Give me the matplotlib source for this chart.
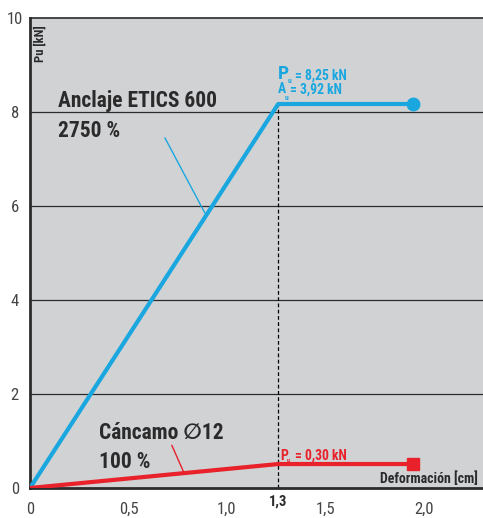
import matplotlib
import matplotlib.pyplot as plt

plt.rcParams["font.family"] = ["Roboto Condensed", "DejaVu Sans"]

# datos
anclaje_x = [0, 1.26, 1.944]
anclaje_y = [0, 8.17, 8.17]
cancamo_x = [0, 1.26, 1.944]
cancamo_y = [0, 0.51, 0.51]
x_ticks = [0, 0.5, 1.0, 1.5, 2.0]
x_labels = ["0", "0,5", "1,0", "1,5", "2,0"]
y_ticks = [0, 2, 4, 6, 8, 10]
x_peak = 1.26

BLUE = "#1aa7e0"
RED = "#e8212b"
GREY = "#d1d2d4"
DARK = "#2b2b2b"

fig = plt.figure(figsize=(4.83, 5.18), dpi=100)
ax = fig.add_axes([30 / 483, 30 / 518, 1 - 30 / 483, 470 / 518])
ax.set_facecolor(GREY)
ax.set_xlim(0, 2.3)
ax.set_ylim(0, 10)

for y in y_ticks[1:-1]:
    ax.axhline(y, color=DARK, lw=0.9, zorder=1)

ax.plot([x_peak, x_peak], [0, anclaje_y[1]], color="black", lw=0.9, ls=(0, (3, 2)), zorder=2)

ax.plot(anclaje_x, anclaje_y, color=BLUE, lw=3, zorder=3)
ax.plot(anclaje_x[-1], anclaje_y[-1], "o", color=BLUE, ms=9, zorder=4)
ax.plot(cancamo_x, cancamo_y, color=RED, lw=3, zorder=3)
ax.plot(cancamo_x[-1], cancamo_y[-1], "s", color=RED, ms=8, zorder=4)

for s in ["left", "bottom", "top"]:
    ax.spines[s].set_color(DARK)
ax.spines["left"].set_linewidth(2)
ax.spines["bottom"].set_linewidth(2)
ax.spines["top"].set_linewidth(1.2)
ax.spines["right"].set_visible(False)

ax.set_xticks(x_ticks)
ax.set_xticklabels(x_labels)
ax.set_yticks(y_ticks)
ax.tick_params(length=0, labelsize=12, colors="#444444")
ax.tick_params(axis="x", pad=10)
ax.tick_params(axis="y", pad=11)
for lab in ax.get_yticklabels():
    lab.set_ha("center")

ax.text(x_peak, -0.13, "1,3", ha="center", va="top", fontsize=10.5, fontweight="bold",
        color=DARK)

ax.text(0.05, 9.85, "Pu [kN]", rotation=90, ha="center", va="top", fontsize=9,
        fontweight="bold", color=DARK)
ax.text(2.274, 0.1, "Deformación [cm]", ha="right", va="baseline", fontsize=10,
        fontweight="bold", color=DARK)

# etiquetas de las curvas
ax.text(0.142, 8.1, "Anclaje ETICS 600", fontsize=15.5, fontweight="bold", color=DARK,
        va="baseline")
ax.text(0.142, 7.47, "2750 %", fontsize=15.5, fontweight="bold", color=DARK, va="baseline")
ax.annotate("", xy=(0.888, 5.85), xytext=(0.685, 7.45),
            arrowprops=dict(arrowstyle="-", color=BLUE, lw=1, shrinkA=0, shrinkB=0))

ax.text(0.35, 1.04, "Cáncamo ∅12", fontsize=15.5, fontweight="bold", color=DARK,
        va="baseline")
ax.text(0.35, 0.43, "100 %", fontsize=15.5, fontweight="bold", color=DARK, va="baseline")
ax.annotate("", xy=(0.78, 0.34), xytext=(0.72, 0.91),
            arrowprops=dict(arrowstyle="-", color=RED, lw=1, shrinkA=0, shrinkB=0))

# valores Pu / Au
ax.text(1.259, 8.70, "P", fontsize=14, fontweight="bold", color=BLUE, va="baseline")
ax.text(1.31, 8.62, "u", fontsize=5.5, fontweight="bold", color=BLUE, va="baseline")
ax.text(1.345, 8.70, "= 8,25 kN", fontsize=9.8, fontweight="bold", color=BLUE, va="baseline")
ax.text(1.259, 8.40, "A", fontsize=9.8, fontweight="bold", color=BLUE, va="baseline")
ax.text(1.292, 8.26, "u", fontsize=5.5, fontweight="bold", color=BLUE, va="baseline")
ax.text(1.32, 8.40, "= 3,92 kN", fontsize=9.8, fontweight="bold", color=BLUE, va="baseline")

ax.text(1.27, 0.60, "P", fontsize=10, fontweight="bold", color=RED, va="baseline")
ax.text(1.305, 0.555, "u", fontsize=4.5, fontweight="bold", color=RED, va="baseline")
ax.text(1.345, 0.60, "= 0,30 kN", fontsize=9.8, fontweight="bold", color=RED, va="baseline")

fig.savefig("out.png", dpi=100)
